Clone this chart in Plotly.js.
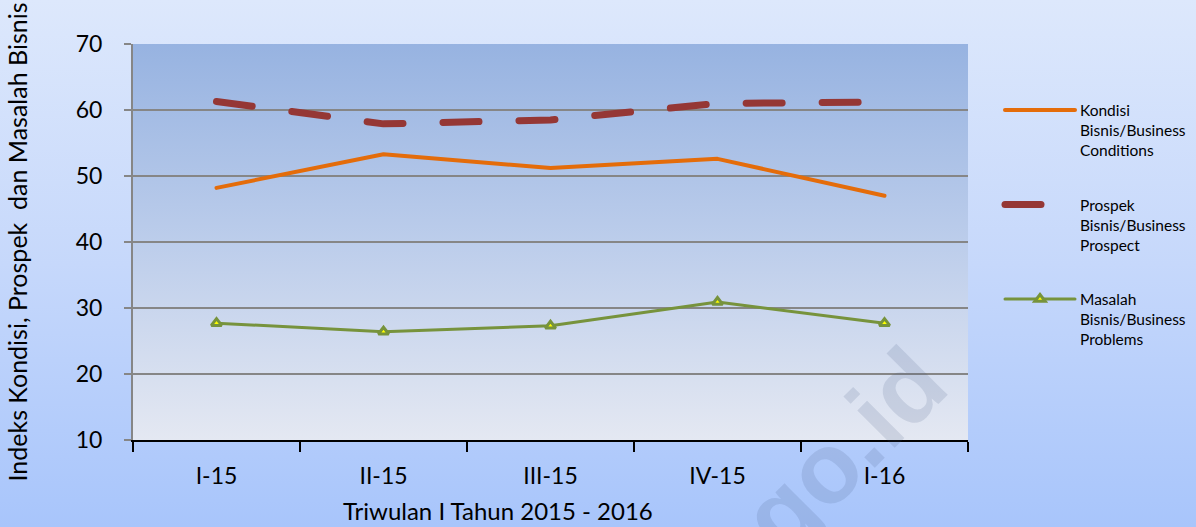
<!DOCTYPE html>
<html>
<head>
<meta charset="utf-8">
<script src="https://cdn.plot.ly/plotly-3.0.1.min.js"></script>
<style>
  html, body { margin: 0; padding: 0; }
  #wrap {
    position: relative; width: 1196px; height: 527px; overflow: hidden;
    background: linear-gradient(to bottom, #dde8fc 0%, #c6d8fb 50%, #a8c5fb 100%);
  }
  #plotbg {
    position: absolute; left: 133px; top: 44px; width: 835px; height: 396px;
    background: linear-gradient(to bottom, #97b3e1 0%, #bccdeb 50%, #e4e8f2 100%);
  }
  #chart { position: absolute; left: 0; top: 0; width: 1196px; height: 527px; }
  .js-line { stroke-linecap: round; stroke-linejoin: round; }
</style>
</head>
<body>
<div id="wrap">
  <div id="plotbg"></div>
  <div id="chart"></div>
</div>
<script>
const quarters = ['I-15', 'II-15', 'III-15', 'IV-15', 'I-16'];
const kondisi  = [48.2, 53.3, 51.2, 52.6, 47.0];
const prospek  = [61.3, 57.9, 58.5, 61.0, 61.2];
const masalah  = [27.7, 26.4, 27.3, 30.9, 27.7];
const yTicks   = [10, 20, 30, 40, 50, 60, 70];

const names = [
  'Kondisi<br>Bisnis/Business<br>Conditions',
  'Prospek<br>Bisnis/Business<br>Prospect',
  'Masalah<br>Bisnis/Business<br>Problems'
];

const FONT = 'Lato, "Liberation Sans", Arial, sans-serif';

const traces = [
  {
    x: quarters, y: kondisi, type: 'scatter', mode: 'lines', name: names[0],
    legendgroup: 'a',
    line: { color: '#e46c0a', width: 4 }
  },
  {
    x: quarters, y: prospek, type: 'scatter', mode: 'lines', name: names[1],
    legendgroup: 'b',
    line: { color: '#953735', width: 7, dash: '36px,40px' }
  },
  {
    x: quarters, y: masalah, type: 'scatter', mode: 'lines+markers', name: names[2],
    legendgroup: 'c',
    line: { color: '#77933c', width: 3 },
    marker: { symbol: 'triangle-up', size: 9, color: '#ffff00',
              line: { color: '#77933c', width: 3 } }
  }
];

const layout = {
  width: 1196, height: 527,
  margin: { l: 133, r: 228, t: 44, b: 87 },
  paper_bgcolor: 'rgba(0,0,0,0)',
  plot_bgcolor: 'rgba(0,0,0,0)',
  font: { family: FONT, color: '#000000' },
  showlegend: true,
  legend: {
    xref: 'container', x: 1000 / 1196, xanchor: 'left',
    y: 0.875, yanchor: 'top',
    bgcolor: 'rgba(0,0,0,0)', font: { size: 15.5, family: FONT },
    valign: 'top', tracegroupgap: 31, traceorder: 'grouped', itemwidth: 70
  },
  xaxis: {
    type: 'category', range: [-0.5, 4.5],
    tickson: 'boundaries', ticks: 'outside', ticklen: 10, tickwidth: 2, tickcolor: '#000',
    showline: true, linecolor: '#000', linewidth: 2,
    showgrid: false, zeroline: false,
    tickfont: { size: 23, family: FONT },
    ticklabelstandoff: 14
  },
  yaxis: {
    range: [10, 70], tickvals: yTicks,
    ticks: 'outside', ticklen: 7, tickwidth: 2, tickcolor: '#868686',
    showline: true, linecolor: '#868686', linewidth: 2,
    showgrid: true, gridcolor: '#868686', gridwidth: 2, zeroline: false,
    tickfont: { size: 23, family: FONT },
    ticklabelstandoff: 17,
    title: { text: 'Indeks Kondisi, Prospek  dan Masalah Bisnis',
             font: { size: 25, family: FONT }, standoff: 41 }
  },
  annotations: [
    {
      text: 'Triwulan I Tahun 2015 - 2016', xref: 'paper', yref: 'paper',
      x: 0.437, y: -0.178, xanchor: 'center', yanchor: 'middle', showarrow: false,
      font: { size: 24, family: FONT }
    },
    {
      text: '<b>go.id</b>', xref: 'paper', yref: 'paper',
      x: (843 - 133) / 835, y: (440 - 450) / 396, xanchor: 'center', yanchor: 'middle',
      showarrow: false, textangle: -45,
      font: { size: 100, family: '"Liberation Sans", Arial, sans-serif', color: 'rgba(60,80,120,0.14)' }
    }
  ]
};

Plotly.newPlot('chart', traces, layout, { displayModeBar: false, staticPlot: true });
</script>
</body>
</html>
